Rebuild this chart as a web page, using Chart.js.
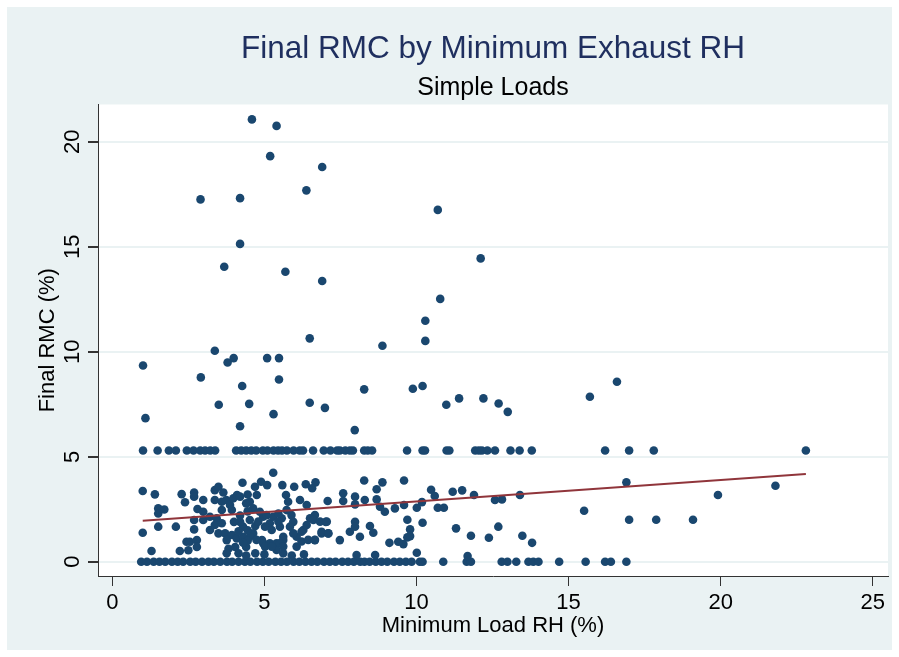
<!DOCTYPE html>
<html>
<head>
<meta charset="utf-8">
<title>Final RMC by Minimum Exhaust RH</title>
<script src="https://cdn.jsdelivr.net/npm/chart.js@4"></script>
<style>
  body { margin: 0; background: #ffffff; }
</style>
</head>
<body>
<canvas id="rmc-chart" width="899" height="657"></canvas>
<script>
// scattered high values (Final RMC above ~6%)
const highX = [4.59, 5.40, 5.19, 6.90, 6.38, 2.90, 4.20, 10.70, 4.20, 3.68, 5.69, 6.90, 12.11, 10.78, 10.29,
    1.01, 1.09, 3.37, 2.91, 3.50, 3.79, 3.99, 4.27, 4.50, 4.20, 5.09, 5.48, 5.48, 5.30, 6.49,
    6.49, 6.99, 8.88, 8.28, 7.97, 10.29, 9.88, 10.20, 10.98, 11.40, 12.20, 12.70, 13.00, 15.70, 16.59]
const highY = [21.07, 20.76, 19.32, 18.80, 17.69, 17.26, 17.32, 16.76, 15.14, 14.05, 13.81, 13.37, 14.45, 12.52, 11.48,
    9.35, 6.84, 10.05, 8.78, 7.48, 9.49, 9.70, 8.37, 7.52, 6.45, 9.70, 9.70, 8.68, 7.03, 10.64,
    7.57, 7.33, 10.29, 8.21, 6.27, 10.52, 8.24, 8.37, 7.48, 7.78, 7.78, 7.54, 7.14, 7.86, 8.57]

// the band of loads that all ended at 5.3%
const bandValue = 5.3
const bandX = [1.01, 1.49, 1.86, 2.09, 2.45, 2.67, 2.89, 3.05, 3.22, 3.38, 4.07, 4.24, 4.40, 4.57, 4.73,
    4.95, 5.10, 5.30, 5.45, 5.58, 5.74, 5.96, 6.16, 6.27, 6.60, 6.95, 7.17, 7.39, 7.48, 7.66,
    7.81, 7.91, 8.28, 8.40, 8.54, 9.69, 10.20, 10.28, 10.99, 11.08, 11.93, 12.05, 12.15, 12.33, 12.58,
    13.09, 13.39, 13.79, 16.20, 16.99, 17.80, 22.80]

// loads that dried right down to 0%
const zeroX = [0.95, 1.14, 1.36, 1.55, 1.74, 1.96, 2.15, 2.33, 2.56, 2.74, 2.95, 3.16, 3.34, 3.55, 3.77,
    3.94, 4.15, 4.36, 4.54, 4.76, 4.95, 5.14, 5.36, 5.55, 5.74, 5.96, 6.15, 6.35, 6.55, 6.74,
    6.96, 7.15, 7.34, 7.56, 7.75, 7.94, 8.15, 8.29, 8.46, 8.66, 8.85, 9.04, 9.26, 9.45, 9.65,
    9.84, 10.11, 10.20, 10.88, 11.65, 11.79, 12.80, 12.99, 13.28, 13.68, 13.84, 14.01, 14.69, 15.56, 16.20,
    16.39, 16.90]

// the dense cloud between 0 and ~4%
const lowX = [16.90, 19.91, 21.80, 15.51, 16.99, 17.88, 19.09,
    9.59, 10.48, 10.60, 11.19, 11.50, 11.89, 13.40, 9.59, 10.01, 10.18, 10.70, 10.90, 12.58, 12.81,
    9.70, 10.20, 9.79, 9.70, 9.79, 9.57, 11.30, 11.79, 12.38, 12.69, 13.48, 13.80, 10.01, 11.68,
    5.29, 4.89, 5.09, 4.69, 5.59, 5.98, 6.36, 6.68, 6.57, 8.28, 8.88, 8.69, 7.59, 7.98, 8.30,
    8.69, 7.08, 7.59, 7.98, 8.80, 8.96, 9.29, 5.71, 5.78, 6.17, 6.39, 4.75, 4.52, 7.98, 7.98,
    7.48, 7.81, 8.14, 8.47, 8.58, 9.11, 9.40, 7.02, 6.88, 7.10, 6.66, 6.28, 6.50, 6.66, 6.06,
    5.62, 5.62, 5.95, 5.89, 5.57, 5.51, 5.18, 4.96, 4.96, 4.92, 4.63, 4.70, 5.18, 5.40, 5.40,
    5.62, 8.03, 8.64,
    4.63, 4.85, 5.07, 5.29, 5.46, 5.73, 4.52, 4.80, 5.02, 5.24, 5.46, 5.84, 5.95, 6.22, 6.39,
    6.61, 6.83, 7.05, 4.52, 4.74, 5.02, 5.24, 5.51, 5.62, 6.06, 6.22, 6.44, 6.66, 6.88, 7.10,
    4.70, 5.00, 5.90, 6.30,
    1.00, 1.40, 1.00, 1.29, 1.51, 1.51, 1.71, 1.51, 2.09, 2.28, 2.69, 2.39, 2.69, 2.99, 2.80,
    2.69, 2.69, 2.22, 2.44, 2.55, 2.50, 2.99, 3.21, 3.43, 3.37, 3.49, 3.65, 3.37, 3.60, 3.75,
    3.87, 3.98, 4.10, 4.28, 4.40, 3.37, 3.60, 3.21, 3.49, 3.71, 3.93, 3.76, 4.09, 4.30, 4.30,
    3.82, 4.04, 4.40, 3.76, 4.15, 4.40, 2.99, 3.60, 3.93, 2.78, 2.78,
    4.20, 4.45, 4.20, 4.45, 4.15, 4.45, 4.30, 4.00, 4.45, 4.20]
const lowY = [3.78, 3.18, 3.62, 2.43, 2.00, 2.00, 2.00,
    3.87, 3.43, 3.13, 3.33, 3.40, 3.18, 3.18, 2.70, 2.57, 2.84, 2.57, 2.57, 2.94, 2.97,
    2.00, 1.86, 1.54, 1.16, 1.22, 0.84, 1.59, 1.24, 1.14, 1.67, 1.24, 0.90, 0.43, 0.27,
    4.24, 3.81, 3.65, 3.57, 3.65, 3.57, 3.69, 3.78, 3.50, 3.87, 3.78, 3.45, 3.26, 3.10, 2.94,
    2.97, 2.89, 2.89, 2.73, 2.62, 2.38, 2.54, 3.18, 2.86, 2.94, 2.70, 3.18, 2.86, 1.90, 1.67,
    1.03, 1.43, 1.19, 1.70, 1.38, 0.90, 0.95, 1.90, 1.35, 1.35, 1.03, 1.51, 2.07, 2.22, 1.19,
    1.19, 1.03, 1.90, 2.22, 2.07, 1.67, 1.83, 2.14, 0.88, 1.03, 1.35, 1.70, 0.88, 0.88, 0.56,
    0.40, 0.32, 0.32,
    2.54, 2.38, 2.22, 2.14, 2.30, 2.46, 1.99, 1.91, 1.67, 1.51, 1.91, 1.67, 1.35, 1.43, 1.75,
    1.99, 1.91, 1.91, 1.19, 1.04, 0.72, 0.72, 0.88, 0.72, 0.72, 0.96, 1.04, 1.04, 1.43, 1.35,
    0.40, 0.35, 0.30, 0.35,
    3.37, 3.21, 1.38, 0.51, 2.54, 2.30, 2.49, 1.67, 1.67, 3.22, 3.30, 2.83, 3.10, 2.94, 2.51,
    1.99, 1.54, 0.51, 0.95, 0.95, 0.55, 1.99, 2.14, 2.07, 3.41, 3.57, 3.30, 2.94, 2.86, 2.94,
    2.70, 3.02, 3.18, 3.76, 2.78, 1.75, 1.83, 1.51, 1.35, 1.35, 1.27, 1.03, 1.11, 1.67, 1.19,
    0.62, 0.70, 0.70, 0.40, 0.40, 0.30, 2.38, 2.46, 2.46, 1.03, 0.70,
    2.20, 2.40, 1.90, 1.50, 1.45, 1.00, 0.90, 1.90, 3.20, 3.10]

// linear fit line, ends
const fitX = [1.0, 22.8]
const fitY = [1.95, 4.18]

const xTicks = [0, 5, 10, 15, 20, 25]
const yTicks = [0, 5, 10, 15, 20]

const navy = '#1a476f'
const maroon = '#90353b'
const fontFamily = '"Liberation Sans", Arial, sans-serif'

function toPoints(xs, ys) {
    return xs.map((x, i) => ({ x: x, y: ys[i] }))
}

const points = []
    .concat(toPoints(highX, highY))
    .concat(bandX.map(x => ({ x: x, y: bandValue })))
    .concat(zeroX.map(x => ({ x: x, y: 0 })))
    .concat(toPoints(lowX, lowY))

// stata style backgrounds: light graph region, white plot region
const backgroundPlugin = {
    id: 'stataBackground',
    beforeDraw(chart) {
        const { ctx, chartArea } = chart
        ctx.save()
        ctx.fillStyle = '#ffffff'
        ctx.fillRect(0, 0, chart.width, chart.height)
        ctx.fillStyle = '#eaf2f3'
        ctx.fillRect(7, 7, chart.width - 14, chart.height - 14)
        ctx.fillStyle = '#ffffff'
        ctx.fillRect(chartArea.left, chartArea.top, chartArea.right - chartArea.left, chartArea.bottom - chartArea.top)
        ctx.restore()
    }
}

function main() {
    const canvas = document.querySelector('#rmc-chart')

    new Chart(canvas.getContext('2d'), {
        type: 'scatter',
        data: {
            datasets: [
                {
                    type: 'line',
                    label: 'Fitted values',
                    data: toPoints(fitX, fitY),
                    borderColor: maroon,
                    borderWidth: 2,
                    pointRadius: 0,
                    fill: false
                },
                {
                    label: 'Final RMC',
                    data: points,
                    backgroundColor: navy,
                    borderColor: navy,
                    borderWidth: 0,
                    pointRadius: 4.3
                }
            ]
        },
        options: {
            responsive: false,
            animation: false,
            layout: { padding: { left: 0, top: 0, right: 11, bottom: 0 } },
            plugins: {
                legend: { display: false },
                tooltip: { enabled: false },
                // not full size, so the titles centre over the plot region like stata does
                title: {
                    display: true,
                    fullSize: false,
                    text: 'Final RMC by Minimum Exhaust RH',
                    color: '#1f2f5f',
                    font: { family: fontFamily, size: 31.5, weight: 'normal', lineHeight: 1 },
                    padding: { top: 34, bottom: 0 }
                },
                subtitle: {
                    display: true,
                    fullSize: false,
                    text: 'Simple Loads',
                    color: '#000000',
                    font: { family: fontFamily, size: 25, weight: 'normal', lineHeight: 1 },
                    padding: { top: 10.5, bottom: 3.5 }
                }
            },
            scales: {
                x: {
                    type: 'linear',
                    min: -0.47,
                    max: 25.5,
                    afterFit: scale => { scale.height = 81 },
                    afterBuildTicks: scale => { scale.ticks = xTicks.map(v => ({ value: v })) },
                    grid: { display: true, drawOnChartArea: false, tickLength: 10, tickColor: '#333333' },
                    border: { display: true, color: '#333333', width: 1 },
                    ticks: {
                        color: '#000000',
                        font: { family: fontFamily, size: 22 },
                        padding: 4,
                        maxRotation: 0
                    },
                    title: {
                        display: true,
                        text: 'Minimum Load RH (%)',
                        color: '#000000',
                        font: { family: fontFamily, size: 22, lineHeight: 1.2 },
                        padding: { top: 0, bottom: 18 }
                    }
                },
                y: {
                    type: 'linear',
                    min: -0.68,
                    max: 21.78,
                    afterFit: scale => { scale.width = 98 },
                    afterBuildTicks: scale => { scale.ticks = yTicks.map(v => ({ value: v })) },
                    grid: { color: '#eaf2f3', lineWidth: 2, tickLength: 10, tickColor: '#333333' },
                    border: { display: true, color: '#333333', width: 1 },
                    ticks: {
                        color: '#000000',
                        font: { family: fontFamily, size: 22 },
                        padding: 3,
                        minRotation: 90,
                        maxRotation: 90,
                        crossAlign: 'center'
                    },
                    title: {
                        display: true,
                        text: 'Final RMC (%)',
                        color: '#000000',
                        font: { family: fontFamily, size: 22, lineHeight: 1.2 },
                        padding: { top: 35, bottom: 0 }
                    }
                }
            }
        },
        plugins: [backgroundPlugin]
    })
}

main()
</script>
</body>
</html>
